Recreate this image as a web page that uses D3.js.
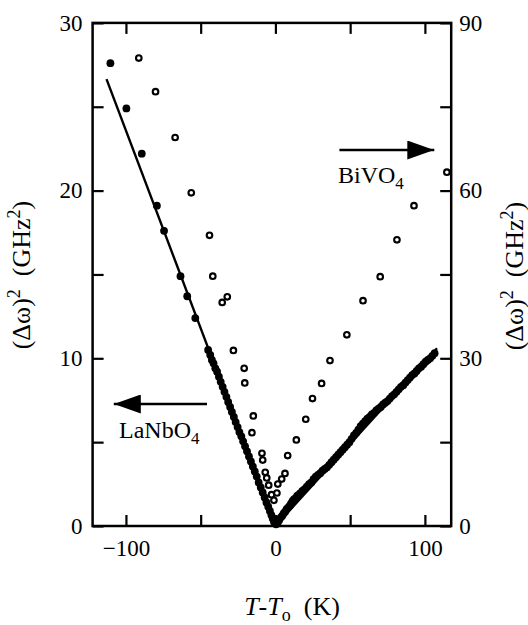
<!DOCTYPE html>
<html>
<head>
<meta charset="utf-8">
<script src="https://cdn.jsdelivr.net/npm/d3@7"></script>
<style>
    body { margin: 0; background: #fff; }
    text { font-family: "Liberation Serif", "Times New Roman", serif; fill: #000; }
</style>
</head>
<body>
<script>
// LaNbO4 (filled dots, left axis)
const lanbT = [-110.4, -99.7, -89.4, -79.3, -74.5, -63.5, -59.0, -53.6, -45.0,
    -43.6, -42.5, -41.4, -40.2, -39.0, -37.8, -36.6, -35.3, -34.1, -32.8, -31.6, -30.3, -29.1,
    -27.8, -26.6, -25.3, -24.1, -22.8, -21.6, -20.3, -19.0, -17.7, -16.4, -15.1, -13.8, -12.5,
    -11.2, -9.8, -8.5, -7.2, -6.0, -4.8, -3.7, -2.7, -1.8, -1.0,
    0.5, 1.5, 2.5, 3.5, 4.5, 5.5, 6.5, 7.5, 8.5, 9.5, 10.5, 11.5, 12.5, 13.5, 14.5, 15.5, 16.5,
    18.0, 19.5, 21.0, 22.5, 24.0, 25.5, 27.0, 28.5, 30.0, 31.5, 33.0, 34.5, 36.0, 37.5, 39.0,
    40.5, 42.0, 43.5, 45.0, 46.5, 48.0, 49.5, 51.0, 52.5, 54.0, 55.5, 57.0, 58.5, 60.0, 61.5,
    63.0, 64.5, 66.0, 67.5, 69.0, 70.5, 72.0, 73.5, 75.0, 76.5, 78.0, 79.5, 81.0, 82.5, 84.0,
    85.5, 87.0, 88.5, 90.0, 91.5, 93.0, 94.5, 96.0, 97.5, 99.0, 100.5, 102.0, 103.5, 105.0, 106.5];
const lanbV = [27.6, 24.9, 22.2, 19.1, 17.6, 14.9, 13.7, 12.4, 10.5,
    10.2, 9.9, 9.7, 9.4, 9.2, 8.9, 8.6, 8.3, 8.0, 7.7, 7.4, 7.1, 6.8,
    6.5, 6.2, 5.9, 5.6, 5.35, 5.05, 4.75, 4.45, 4.15, 3.85, 3.55, 3.25, 2.95,
    2.6, 2.3, 2.0, 1.7, 1.4, 1.15, 0.9, 0.65, 0.45, 0.25,
    0.1, 0.2, 0.35, 0.5, 0.6, 0.75, 0.85, 1.0, 1.1, 1.2, 1.35, 1.5, 1.6, 1.65, 1.8, 1.85, 1.95,
    2.1, 2.2, 2.35, 2.5, 2.6, 2.8, 2.95, 3.05, 3.15, 3.3, 3.4, 3.5, 3.65, 3.8, 3.95,
    4.1, 4.25, 4.4, 4.55, 4.7, 4.85, 5.0, 5.2, 5.4, 5.55, 5.75, 5.95, 6.1, 6.25, 6.4,
    6.5, 6.65, 6.75, 6.9, 7.0, 7.1, 7.25, 7.35, 7.45, 7.6, 7.75, 7.85, 8.0, 8.15, 8.3,
    8.4, 8.55, 8.7, 8.85, 9.0, 9.1, 9.25, 9.4, 9.5, 9.65, 9.8, 9.9, 10.0, 10.15, 10.3];

// BiVO4 (open circles, right axis)
const bivoT = [-91.4, -80.2, -67.1, -56.3, -44.1, -41.9, -35.6, -32.2, -28.1, -20.9, -20.5,
    -14.8, -15.7, -9.0, -8.5, -6.8, -5.8, -4.5, -2.6, -1.0, 1.0, 1.6, 4.2, 6.4, 8.2,
    14.0, 20.3, 24.8, 30.9, 36.5, 47.8, 58.6, 70.1, 81.3, 92.7, 114.7];
const bivoV = [83.7, 77.7, 69.5, 59.6, 52.0, 44.7, 40.0, 41.0, 31.4, 28.2, 25.6,
    19.7, 16.7, 13.0, 11.8, 9.6, 8.6, 7.3, 5.6, 4.6, 5.9, 7.5, 8.4, 9.4, 12.6,
    15.4, 19.1, 22.8, 25.5, 29.6, 34.2, 40.3, 44.6, 51.2, 57.3, 63.3];

// fitted lines through LaNbO4
const fitT = [-113.0, 0, 108.1];
const fitV = [26.65, 0, 10.6];

const xTicks = [-100, -50, 0, 50, 100];
const xLabels = [-100, 0, 100];
const yLeftTicks = [0, 5, 10, 15, 20, 25, 30];
const yLeftLabels = [0, 10, 20, 30];
const yRightTicks = [0, 15, 30, 45, 60, 75, 90];
const yRightLabels = [0, 30, 60, 90];

let width = 528;
let height = 625;
let mLeft = 92.6, mRight = 451.2, mTop = 22.9, mBottom = 526;

const svg = d3.select('body')
    .append('svg')
    .attr('width', width)
    .attr('height', height);

let x = d3.scaleLinear().domain([-122.3, 117.6]).range([mLeft, mRight]);
let yL = d3.scaleLinear().domain([0, 30]).range([mBottom, mTop]);
let yR = d3.scaleLinear().domain([0, 90]).range([mBottom, mTop]);

draw();

function draw() {
    let fontSize = 23;
    let fmt = d3.format('d');

    // axes (ticks pointing inward)
    svg.append('g')
        .attr('transform', 'translate(0,' + mBottom + ')')
        .call(d3.axisBottom(x).tickValues(xTicks).tickSize(-11).tickPadding(14)
            .tickFormat(d => xLabels.includes(d) ? fmt(d) : ''));
    svg.append('g')
        .attr('transform', 'translate(0,' + mTop + ')')
        .call(d3.axisTop(x).tickValues(xTicks).tickSize(-11).tickFormat(''));
    svg.append('g')
        .attr('transform', 'translate(' + mLeft + ',0)')
        .call(d3.axisLeft(yL).tickValues(yLeftTicks).tickSize(-11).tickPadding(10)
            .tickFormat(d => yLeftLabels.includes(d) ? d : ''));
    svg.append('g')
        .attr('transform', 'translate(' + mRight + ',0)')
        .call(d3.axisRight(yR).tickValues(yRightTicks).tickSize(-11).tickPadding(8)
            .tickFormat(d => yRightLabels.includes(d) ? d : ''));

    svg.selectAll('.domain').remove();
    svg.selectAll('.tick line').attr('stroke', '#000').attr('stroke-width', 2.2);
    svg.selectAll('.tick text')
        .attr('font-size', fontSize)
        .attr('font-family', '"Liberation Serif", serif');

    // frame
    svg.append('rect')
        .attr('x', mLeft).attr('y', mTop)
        .attr('width', mRight - mLeft).attr('height', mBottom - mTop)
        .attr('fill', 'none')
        .attr('stroke', '#000')
        .attr('stroke-width', 2.5);

    let g = svg.append('g');

    // fit line
    let line = d3.line()
        .x((d, i) => x(fitT[i]))
        .y((d, i) => yL(fitV[i]));
    g.append('path')
        .datum(fitT)
        .attr('d', line)
        .attr('fill', 'none')
        .attr('stroke', '#000')
        .attr('stroke-width', 2.4);

    // LaNbO4 dots
    g.selectAll('circle.lanb')
        .data(lanbT)
        .enter()
        .append('circle')
        .attr('class', 'lanb')
        .attr('cx', d => x(d))
        .attr('cy', (d, i) => yL(lanbV[i]))
        .attr('r', 3.9)
        .attr('fill', '#000');

    // BiVO4 open circles
    g.selectAll('circle.bivo')
        .data(bivoT)
        .enter()
        .append('circle')
        .attr('class', 'bivo')
        .attr('cx', d => x(d))
        .attr('cy', (d, i) => yR(bivoV[i]))
        .attr('r', 2.8)
        .attr('fill', '#fff')
        .attr('stroke', '#000')
        .attr('stroke-width', 2.1);

    // arrows + labels
    let defs = svg.append('defs');
    defs.append('marker')
        .attr('id', 'head')
        .attr('viewBox', '0 0 27 19')
        .attr('refX', 27).attr('refY', 9.5)
        .attr('markerWidth', 27).attr('markerHeight', 19)
        .attr('markerUnits', 'userSpaceOnUse')
        .attr('orient', 'auto')
        .append('path')
        .attr('d', 'M0,0 L27,9.5 L0,19 Z')
        .attr('fill', '#000');

    svg.append('line')
        .attr('x1', 339.4).attr('y1', 150).attr('x2', 434.3).attr('y2', 150)
        .attr('stroke', '#000').attr('stroke-width', 2.4)
        .attr('marker-end', 'url(#head)');
    svg.append('line')
        .attr('x1', 207).attr('y1', 404).attr('x2', 113.8).attr('y2', 404)
        .attr('stroke', '#000').attr('stroke-width', 2.4)
        .attr('marker-end', 'url(#head)');

    let bi = svg.append('text').attr('x', 338).attr('y', 182.7).attr('font-size', 24);
    bi.append('tspan').text('BiVO');
    bi.append('tspan').attr('dy', 6).attr('font-size', 17).text('4');

    let la = svg.append('text').attr('x', 119).attr('y', 438.3).attr('font-size', 24);
    la.append('tspan').text('LaNbO');
    la.append('tspan').attr('dy', 6).attr('font-size', 17).text('4');

    // axis titles
    yTitle(30, 275);
    yTitle(523, 276);

    let xt = svg.append('text')
        .attr('x', 292).attr('y', 615)
        .attr('text-anchor', 'middle')
        .attr('font-size', 26);
    xt.append('tspan').attr('font-style', 'italic').text('T');
    xt.append('tspan').text('-');
    xt.append('tspan').attr('font-style', 'italic').text('T');
    xt.append('tspan').attr('dy', 6).attr('font-size', 18).text('o');
    xt.append('tspan').attr('dy', -6).text('\u00a0\u00a0(K)');
}

function yTitle(tx, ty) {
    let t = svg.append('text')
        .attr('transform', 'translate(' + tx + ',' + ty + ') rotate(-90)')
        .attr('text-anchor', 'middle')
        .attr('font-size', 26);
    t.append('tspan').text('(\u0394\u03c9)');
    t.append('tspan').attr('dy', -10).attr('font-size', 18).text('2');
    t.append('tspan').attr('dy', 10).text('\u00a0\u00a0(GHz');
    t.append('tspan').attr('dy', -10).attr('font-size', 18).text('2');
    t.append('tspan').attr('dy', 10).text(')');
}
</script>
</body>
</html>
